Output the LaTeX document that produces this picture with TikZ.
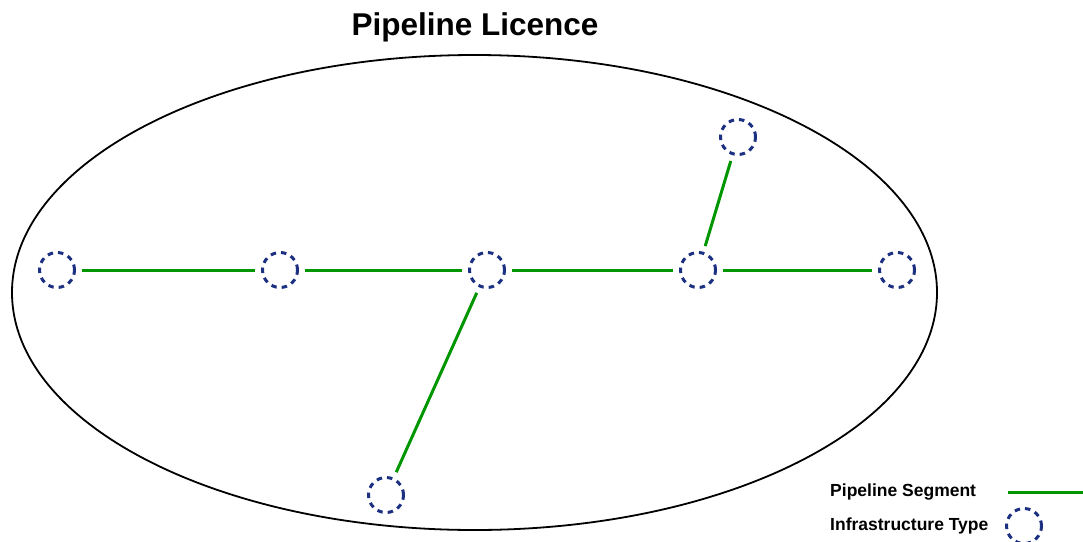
\documentclass[tikz,border=0pt]{standalone}
\usepackage{fontspec}
\setmainfont{Liberation Sans}
\usetikzlibrary{positioning}
\definecolor{segGreen}{RGB}{0,150,0}
\definecolor{infraBlue}{RGB}{28,48,130}
\tikzset{infra/.style = {circle, draw=infraBlue, line width=3pt, dash pattern=on 5.5pt off 5pt, minimum size=35pt, inner sep=0pt}}
\tikzset{segment/.style = {segGreen, line width=3pt, shorten <=6pt, shorten >=6pt}}

\begin{document}
\begin{tikzpicture}[x=1pt,y=-1pt]
                    \useasboundingbox (0,0) rectangle (1083,541);
                    \node[font=\bfseries\fontsize{31.5}{36}\selectfont] (title) at (475,27) {Pipeline Licence};
                    \draw [line width=1.8pt] (474.5,292.5) ellipse [x radius=462.5, y radius=237.5];

                    % infrastructure nodes
                    \node[infra] (I1) at (57,270) {};
                    \node[infra] (I2) at (280,270) {};
                    \node[infra] (I3) at (487,270) {};
                    \node[infra] (I4) at (698,270) {};
                    \node[infra] (I5) at (897,270) {};
                    \node[infra] (I6) at (738,137) {};
                    \node[infra] (I7) at (386,495) {};

                    % pipeline segments
                    \draw [segment] (I1) -- (I2);
                    \draw [segment] (I2) -- (I3);
                    \draw [segment] (I3) -- (I4);
                    \draw [segment] (I4) -- (I5);
                    \draw [segment] (I4) -- (I6);
                    \draw [segment] (I3) -- (I7);

                    % legend
                    \node[anchor=west, inner sep=0pt, font=\bfseries\fontsize{17.5}{20}\selectfont] (segText) at (830,492) {Pipeline Segment};
                    \node[anchor=west, inner sep=0pt, font=\bfseries\fontsize{17.5}{20}\selectfont] (infraText) at (830,526) {Infrastructure Type};
                    \coordinate (segStart) at (1008,492);
                    \coordinate (segEnd) at (1083,492);
                    \draw [segGreen, line width=3pt] (segStart) -- (segEnd);
                    \node[infra] (infraKey) at (1024,526) {};
                 \end{tikzpicture}
\end{document}
